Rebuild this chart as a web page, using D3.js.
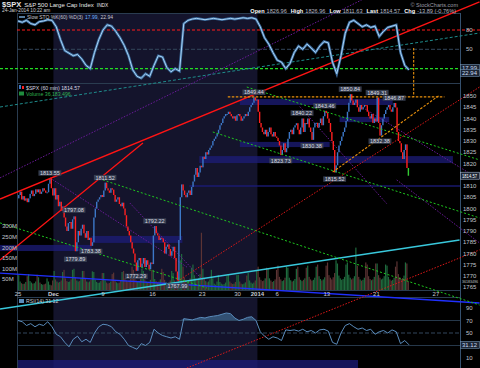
<!DOCTYPE html>
<html>
<head>
<meta charset="utf-8">
<script src="https://cdn.jsdelivr.net/npm/d3@7"></script>
<style>
body { margin: 0; background: #000; }
svg { display: block; }
text { font-family: "Liberation Sans", Arial, sans-serif; }
</style>
</head>
<body>
<svg id="chart" width="480" height="368"></svg>
<script>
/*
 * $SPX 60 min chart, 25-Nov-2013 .. 24-Jan-2014
 */

var tradingDays = ["2013-11-25","2013-11-26","2013-11-27","2013-11-29","2013-12-02","2013-12-03","2013-12-04",
    "2013-12-05","2013-12-06","2013-12-09","2013-12-10","2013-12-11","2013-12-12","2013-12-13","2013-12-16",
    "2013-12-17","2013-12-18","2013-12-19","2013-12-20","2013-12-23","2013-12-24","2013-12-26","2013-12-27",
    "2013-12-30","2013-12-31","2014-01-02","2014-01-03","2014-01-06","2014-01-07","2014-01-08","2014-01-09",
    "2014-01-10","2014-01-13","2014-01-14","2014-01-15","2014-01-16","2014-01-17","2014-01-21","2014-01-22",
    "2014-01-23","2014-01-24"];

// hourly closes, one row per session
var hourlyClose = [
    [1806, 1807.5, 1804, 1805.5, 1803.5, 1804.5, 1802.8],
    [1804.5, 1806.5, 1808, 1805.5, 1806.5, 1808.5, 1807.2],
    [1808.5, 1806.5, 1807.5, 1809, 1808, 1807, 1807.2],
    [1811, 1813.5, 1809, 1805.8],
    [1809, 1804, 1806, 1801, 1803, 1799, 1800.9],
    [1796, 1792, 1790, 1793.5, 1794, 1791, 1795.2],
    [1796.5, 1781, 1785, 1790, 1788, 1791, 1792.8],
    [1789, 1787, 1790, 1786, 1787, 1783.4, 1785],
    [1796, 1800, 1803, 1804, 1805, 1806, 1805.1],
    [1808, 1811.5, 1809, 1808, 1807, 1809, 1808.4],
    [1806, 1803, 1804, 1805, 1802, 1801, 1802.6],
    [1800, 1797, 1792, 1790, 1788, 1785, 1782.2],
    [1780, 1776, 1772.3, 1777, 1778, 1774, 1775.5],
    [1778, 1774, 1777, 1775, 1773, 1776, 1775.3],
    [1788, 1792.2, 1789, 1788, 1786, 1787, 1786.5],
    [1785, 1780, 1783, 1784, 1782, 1779, 1781],
    [1783, 1778, 1772, 1768, 1786, 1805, 1810.7],
    [1808, 1806, 1805, 1807, 1808, 1806, 1809.6],
    [1812, 1815, 1818, 1814, 1816, 1819, 1818.3],
    [1823, 1822, 1825, 1824, 1826, 1827, 1828],
    [1830, 1831, 1832, 1833.3],
    [1835, 1837, 1838, 1840, 1841, 1842, 1842],
    [1843, 1842, 1841, 1840, 1841, 1839, 1841.4],
    [1842, 1841, 1839, 1840, 1841, 1842, 1841.1],
    [1843, 1845, 1846, 1847, 1849.4, 1848, 1848.4],
    [1843, 1838, 1836, 1834, 1833, 1835, 1832],
    [1834, 1836, 1833, 1832, 1834, 1832, 1831.4],
    [1830, 1828, 1823.7, 1826, 1829, 1825, 1826.8],
    [1831, 1834, 1835, 1833, 1836, 1837, 1837.9],
    [1835, 1833, 1836, 1840, 1834, 1838, 1837.5],
    [1840, 1836, 1834, 1830.5, 1836, 1838, 1838.1],
    [1836, 1838, 1840, 1837, 1841, 1843.4, 1842.4],
    [1840, 1838, 1834, 1830, 1826, 1816, 1819.2],
    [1825, 1828, 1830, 1832, 1834, 1836, 1838.9],
    [1843, 1847, 1850.8, 1848, 1846, 1847, 1848.4],
    [1845, 1843, 1846, 1844, 1845, 1846, 1845.9],
    [1843, 1841, 1840, 1842, 1838, 1840, 1838.7],
    [1849.3, 1838, 1832.4, 1837, 1840, 1842, 1843.8],
    [1845, 1846, 1844, 1843, 1845, 1846.9, 1844.9],
    [1834, 1830, 1829, 1825, 1822, 1826, 1828.5],
    [1818, 1814.57]
];

// hourly volume, millions
var hourlyVolume = [
    [70, 40, 32, 28, 30, 38, 65], [75, 42, 35, 30, 32, 40, 72], [60, 35, 28, 25, 27, 30, 55], [40, 25, 22, 45],
    [90, 50, 40, 35, 38, 45, 85], [95, 55, 42, 38, 40, 50, 95], [100, 60, 45, 40, 42, 55, 90], [90, 52, 40, 36, 40, 48, 88],
    [85, 48, 38, 33, 35, 42, 80], [80, 45, 35, 30, 33, 40, 75], [82, 46, 36, 32, 35, 44, 85], [90, 55, 45, 40, 45, 55, 110],
    [95, 55, 45, 38, 42, 52, 100], [90, 50, 40, 35, 38, 48, 95], [95, 52, 42, 36, 40, 50, 100], [85, 48, 38, 33, 36, 45, 90],
    [80, 45, 35, 32, 60, 140, 170], [110, 60, 48, 40, 45, 55, 105], [120, 70, 55, 50, 55, 75, 270], [100, 55, 42, 36, 40, 50, 95],
    [55, 30, 25, 40], [70, 38, 30, 26, 28, 35, 65], [75, 40, 32, 28, 30, 38, 70], [72, 40, 30, 27, 30, 36, 68],
    [80, 45, 35, 30, 35, 45, 90], [110, 60, 48, 42, 45, 55, 105], [100, 55, 45, 38, 42, 50, 95], [115, 62, 50, 42, 46, 58, 110],
    [105, 58, 46, 40, 44, 52, 100], [110, 60, 48, 42, 48, 55, 105], [115, 62, 50, 44, 48, 58, 110], [120, 65, 52, 45, 50, 60, 115],
    [130, 70, 58, 50, 60, 80, 140], [125, 68, 55, 48, 52, 62, 120], [130, 72, 58, 50, 55, 65, 200], [115, 62, 50, 44, 48, 58, 130],
    [120, 65, 52, 46, 50, 62, 125], [125, 70, 58, 50, 54, 65, 120], [115, 62, 50, 44, 48, 58, 110], [135, 75, 60, 52, 56, 68, 130],
    [125, 40]
];

// Slow STO %K and RSI(14), read every 3rd hourly bar
var stochK = [94,92,95,90,88,93,94,96,95, 85,65,48,44,40,42,35,25,20, 45,65,80,88,86,78,68,56,
    40,18,8,5,12,8, 25,40,38,22,15,20,16, 90,95,97,98,97,96,97,98,97,96,97,98,97,98,99,
    98,99,97,85,68,58,45,33,30, 20,28,45,55,50,58,52,45,55,62,60,30,12,40,75,92,95,90,85,88,84,86,70,78,84,86,88,45,25,17.99];
var rsi14 = [70,68,62,65,60,64,62,68,60, 48,44,35,28,40,45,36,40,35, 50,60,64,63,60,52,48,40,
    30,27,24,33,30,35, 56,50,46,44,42,44,40, 73,72,71,73,75,74,76,77,78,80,82,81,74,70,72,
    75,76,70,52,45,40,44,42,38, 55,54,55,53,56,52,54,50,55,56,53,35,32,50,62,65,60,56,58,54,56,48,52,54,50,55,52,33,38,31.12];
var sampleStep = 3;

var weekTickDays = ["2013-11-25","2013-12-02","2013-12-09","2013-12-16","2013-12-23","2013-12-30","2014-01-02",
    "2014-01-06","2014-01-13","2014-01-21","2014-01-27"];
var weekTickLabels = ["25","Dec","9","16","23","30","2014","6","13","21","27"];
// 1815 is hidden behind the last-price box
var priceTicks = [1765,1770,1775,1780,1785,1790,1795,1800,1805,1810,1820,1825,1830,1835,1840,1845,1850];
var volumeTicks = [50,100,150,200,250,300];
var stochTicks = [80, 50];
var rsiTicks = [90, 70, 50, 10];

// swing labels: text, session, hour, price, high/low
var swingText  = ["1813.55","1797.08","1779.89","1783.38","1811.52","1772.29","1792.22","1767.99","1849.44",
    "1823.73","1840.22","1830.38","1843.46","1815.52","1850.84","1849.31","1832.38","1846.87"];
var swingDay   = [3,6,6,7,9,12,14,16,24,27,29,30,31,32,34,37,37,38];
var swingHour  = [1,0,1,5,1,2,1,3,4,2,3,3,5,5,2,0,2,5];
var swingPrice = [1813.55,1797.08,1779.89,1783.38,1811.52,1772.29,1792.22,1767.99,1849.44,
    1823.73,1840.22,1830.38,1843.46,1815.52,1850.84,1849.31,1832.38,1846.87];
var swingSide  = ["h","h","l","l","h","l","h","l","h","l","h","l","h","l","h","h","l","h"];

// annotations in (bar, price) units: [bar0, price0, bar1, price1]
var redSolidLines = [[-12.7, 1804.2, 325.8, 1891.8], [-12.7, 1777.1, 88.2, 1829.1]];
var redDottedLines = [[112.8, 1767.8, 325.8, 1854.0], [119.2, 1729.1, 325.8, 1781.6]];
var greenDottedLines = [[161.5, 1854, 325.8, 1821.6], [137.5, 1834, 325.8, 1795.8],
    [59.9, 1812.7, 325.8, 1757.1], [-12.7, 1793.6, 133.3, 1764.7]];
var purpleDottedLines = [[-12.7, 1813.6, 242.6, 1892.7], [22.6, 1813.6, 119.2, 1774], [79, 1802.4, 130.5, 1768.2],
    [198.9, 1845.3, 260.2, 1802.2], [243.3, 1844.9, 325.8, 1812.9], [267.3, 1812.7, 325.8, 1784.7]];
var tealDashedLines = [[-12.7, 1845.1, 325.8, 1878]];
var cyanLines = [[-12.7, 1755.3, 311.7, 1786]];
var blueLines = [[-12.7, 1771.3, 325.8, 1758]];
var orangeDashedLines = [[148.1, 1849.6, 301, 1849.6], [279.3, 1871.3, 279.3, 1849.6], [222.1, 1816.2, 297.6, 1850.4]];

// support / resistance zones: [bar0, bar1, priceLow, priceHigh]
var zones = [[156.6, 264.5, 1846, 1848.7], [227, 262, 1838.4, 1840.7], [156.6, 220, 1827.3, 1829.6],
    [128, 307, 1820.2, 1823.3], [121, 312, 1809.6, 1810.4], [52, 116, 1784.7, 1787.8], [-12.7, 52, 1781.1, 1783.8]];

var monthShade = ["2013-12-02", "2014-01-02"];

/*
 * Scales and panels
 */
var svg = d3.select('#chart');
var W = 480, H = 368;
var left = 17, right = 460;
var stoPanel = [13, 83], pricePanel = [83, 290], rsiPanel = [297, 368];

var x = d3.scaleLinear().domain([0, 312]).range([18, 460]);
var yPrice = d3.scaleLinear().domain([1765, 1850]).range([287.25, 96]);
var yVol = d3.scaleLinear().domain([0, 300]).range([290, 226.4]);
var ySto = d3.scaleLinear().domain([20, 80]).range([68.6, 30]);
var yRsi = d3.scaleLinear().domain([10, 90]).range([358, 308]);

var dayStart = [];
var nb = 0;
hourlyClose.forEach(function(row) { dayStart.push(nb); nb += row.length; });

function barOfDay(day) {
    var i = tradingDays.indexOf(day);
    if (i >= 0) return dayStart[i];
    // sessions after the last one: full 7-bar sessions
    var last = tradingDays.length - 1;
    var extra = d3.timeDay.count(new Date(tradingDays[last] + "T12:00"), new Date(day + "T12:00"));
    return dayStart[last] + 7 * extra;
}

var bars = [];
var prev = 1804.5;
hourlyClose.forEach(function(row, d) {
    row.forEach(function(c, h) {
        bars.push({bar: dayStart[d] + h, open: prev, close: c, vol: hourlyVolume[d][h]});
        prev = c;
    });
});

svg.append('rect').attr('width', W).attr('height', H).attr('fill', '#000');

// December shading
var shadeX0 = x(barOfDay(monthShade[0])), shadeX1 = x(barOfDay(monthShade[1]));
[stoPanel, pricePanel, rsiPanel].forEach(function(p) {
    svg.append('rect').attr('x', shadeX0).attr('y', p[0]).attr('width', shadeX1 - shadeX0)
        .attr('height', p[1] - p[0]).attr('fill', '#14142c');
});

// zones
svg.append('g').selectAll('rect').data(zones).join('rect')
    .attr('x', function(z) { return Math.max(0, x(z[0])); })
    .attr('width', function(z) { return x(z[1]) - Math.max(0, x(z[0])); })
    .attr('y', function(z) { return yPrice(z[3]); })
    .attr('height', function(z) { return yPrice(z[2]) - yPrice(z[3]); })
    .attr('fill', '#1c1c78').attr('opacity', 0.75);
svg.append('rect').attr('x', left).attr('y', 360).attr('width', x(240) - left).attr('height', 8)
    .attr('fill', '#1c1c78').attr('opacity', 0.75);

// frames
var frame = svg.append('g').attr('stroke', '#2a3c50').attr('stroke-width', 1);
frame.append('line').attr('x1', left).attr('x2', right).attr('y1', 13.5).attr('y2', 13.5);
frame.append('line').attr('x1', left).attr('x2', right).attr('y1', 83.5).attr('y2', 83.5);
frame.append('line').attr('x1', left).attr('x2', right).attr('y1', 290.5).attr('y2', 290.5);
frame.append('line').attr('x1', left).attr('x2', right).attr('y1', 297.5).attr('y2', 297.5);
frame.append('line').attr('x1', left + 0.5).attr('x2', left + 0.5).attr('y1', 13).attr('y2', 368);
frame.append('line').attr('x1', right + 0.5).attr('x2', right + 0.5).attr('y1', 13).attr('y2', 368)
    .attr('stroke', '#35506e');

// STO level lines
svg.append('line').attr('x1', left).attr('x2', W).attr('y1', ySto(80)).attr('y2', ySto(80))
    .attr('stroke', '#ff1a1a').attr('stroke-width', 1.2).attr('stroke-dasharray', '3,2');
svg.append('line').attr('x1', left).attr('x2', right).attr('y1', ySto(50)).attr('y2', ySto(50))
    .attr('stroke', '#33475c').attr('stroke-dasharray', '4,2');
svg.append('line').attr('x1', 0).attr('x2', W).attr('y1', ySto(20)).attr('y2', ySto(20))
    .attr('stroke', '#22dd22').attr('stroke-width', 1.2).attr('stroke-dasharray', '3,2');

// RSI level lines
svg.append('line').attr('x1', left).attr('x2', right).attr('y1', yRsi(70)).attr('y2', yRsi(70)).attr('stroke', '#26384a');
svg.append('line').attr('x1', left).attr('x2', right).attr('y1', yRsi(30)).attr('y2', yRsi(30)).attr('stroke', '#26384a');
svg.append('line').attr('x1', left).attr('x2', right).attr('y1', yRsi(50)).attr('y2', yRsi(50))
    .attr('stroke', '#33475c').attr('stroke-dasharray', '4,2');

// volume
svg.append('g').selectAll('rect').data(bars).join('rect')
    .attr('x', function(b) { return x(b.bar) + 0.1; })
    .attr('width', 1.2)
    .attr('y', function(b) { return yVol(b.vol); })
    .attr('height', function(b) { return yVol(0) - yVol(b.vol); })
    .attr('fill', function(b) { return b.close >= b.open ? '#1f6b3e' : '#5c3434'; });

// trend lines
function drawLines(list, color, width, dash) {
    svg.append('g').selectAll('line').data(list).join('line')
        .attr('x1', function(l) { return x(l[0]); }).attr('y1', function(l) { return yPrice(l[1]); })
        .attr('x2', function(l) { return x(l[2]); }).attr('y2', function(l) { return yPrice(l[3]); })
        .attr('stroke', color).attr('stroke-width', width)
        .attr('stroke-dasharray', dash);
}
drawLines(purpleDottedLines, '#6a1a9a', 1, '1.5,1.5');
drawLines(tealDashedLines, '#1f8c8c', 1, '3,2');
drawLines(blueLines, '#2030ff', 1.4, null);
drawLines(cyanLines, '#39c8dc', 1.6, null);

// price candles
svg.append('g').selectAll('rect').data(bars).join('rect')
    .attr('x', function(b) { return x(b.bar) + 0.1; })
    .attr('width', 1.4)
    .attr('y', function(b) { return yPrice(Math.max(b.open, b.close)); })
    .attr('height', function(b) { return Math.max(1, Math.abs(yPrice(b.open) - yPrice(b.close))); })
    .attr('fill', function(b, i) {
        if (i === bars.length - 1) return '#33cc33';
        return b.close >= b.open ? '#3c78c8' : '#ff2020';
    });

drawLines(greenDottedLines, '#1ec81e', 1, '2,2');
drawLines(redDottedLines, '#e01818', 1, '1.5,1.5');
drawLines(redSolidLines, '#ff1414', 1.3, null);
drawLines(orangeDashedLines, '#e8900c', 1.1, '2.5,1.5');

// stochastic line
var stoLine = d3.line()
    .x(function(v, i) { return x(i * sampleStep); })
    .y(function(v) { return ySto(v); });
svg.append('path').datum(stochK).attr('d', stoLine).attr('fill', 'none')
    .attr('stroke', '#3b6b9c').attr('stroke-width', 2.6);
svg.append('path').datum(stochK).attr('d', stoLine).attr('fill', 'none')
    .attr('stroke', '#a9d3f5').attr('stroke-width', 1);

// RSI
var rsiLine = d3.line()
    .x(function(v, i) { return x(i * sampleStep); })
    .y(function(v) { return yRsi(v); });
var rsiArea = d3.area()
    .x(function(v, i) { return x(i * sampleStep); })
    .y0(yRsi(70))
    .y1(function(v) { return yRsi(Math.max(70, v)); });
svg.append('path').datum(rsi14).attr('d', rsiArea).attr('fill', '#3a5f86').attr('opacity', 0.8);
svg.append('path').datum(rsi14).attr('d', rsiLine).attr('fill', 'none')
    .attr('stroke', '#5a8cbc').attr('stroke-width', 1);

// swing labels
var swings = swingText.map(function(t, i) {
    return {text: t, bar: dayStart[swingDay[i]] + swingHour[i], price: swingPrice[i], side: swingSide[i]};
});
var sg = svg.append('g').selectAll('g').data(swings).join('g');
sg.append('text')
    .attr('x', function(s) { return x(s.bar + 0.5); })
    .attr('y', function(s) { return s.side === 'h' ? yPrice(s.price) - 3 : yPrice(s.price) + 7.5; })
    .attr('text-anchor', 'middle').attr('font-size', 5.5).attr('fill', '#d8d8e0')
    .text(function(s) { return s.text; })
    .each(function() {
        var bb = this.getBBox();
        d3.select(this.parentNode).insert('rect', 'text')
            .attr('x', bb.x - 1.5).attr('y', bb.y + 0.3).attr('width', bb.width + 3).attr('height', bb.height - 0.6)
            .attr('fill', '#3a4254').attr('opacity', 0.9);
    });

// right axis labels
var axisText = svg.append('g').attr('font-size', 6).attr('fill', '#c0c4cc');
axisText.selectAll('.pt').data(priceTicks).join('text').attr('class', 'pt')
    .attr('x', 463).attr('y', function(v) { return yPrice(v) + 2; })
    .text(function(v) { return v; });
axisText.selectAll('.st').data(stochTicks).join('text').attr('class', 'st')
    .attr('x', 466).attr('y', function(v) { return ySto(v) + 2; })
    .text(function(v) { return v; });
axisText.selectAll('.rt').data(rsiTicks).join('text').attr('class', 'rt')
    .attr('x', 466).attr('y', function(v) { return yRsi(v) + 2; })
    .text(function(v) { return v; });
axisText.selectAll('.vt').data(volumeTicks).join('text').attr('class', 'vt')
    .attr('x', 2).attr('y', function(v) { return yVol(v) + 2; })
    .text(function(v) { return v + 'M'; });

function valueBox(label, y, fill, stroke, color) {
    svg.append('rect').attr('x', 460.5).attr('y', y - 3.5).attr('width', 19).attr('height', 7)
        .attr('fill', fill).attr('stroke', stroke).attr('stroke-width', 0.6);
    svg.append('text').attr('x', 462).attr('y', y + 2).attr('font-size', 5.2).attr('fill', color)
        .attr('textLength', 15).attr('lengthAdjust', 'spacingAndGlyphs').text(label);
}
valueBox('1814.57', yPrice(1814.57), '#1d2636', '#9fb0c8', '#ffffff');
valueBox('17.99', ySto(17.99) - 2, '#1d2636', '#6f8fb0', '#c8dcf0');
valueBox('22.94', ySto(17.99) + 3, '#1d2636', '#6f8fb0', '#c8dcf0');
valueBox('31.12', yRsi(31.12), '#1d2636', '#6f8fb0', '#c8dcf0');
svg.append('text').attr('x', 462).attr('y', 283).attr('font-size', 4.2).attr('fill', '#c0c4cc')
    .attr('textLength', 16).attr('lengthAdjust', 'spacingAndGlyphs').text('36183496');

// date axis
svg.append('g').selectAll('text').data(weekTickDays).join('text')
    .attr('x', function(d) { return x(barOfDay(d)); })
    .attr('y', 296)
    .attr('text-anchor', 'middle').attr('font-size', 6)
    .attr('font-weight', function(d, i) { return (weekTickLabels[i] === 'Dec' || weekTickLabels[i] === '2014') ? 'bold' : 'normal'; })
    .attr('fill', '#c8ccd4')
    .text(function(d, i) { return weekTickLabels[i]; });

// header
var head = svg.append('text').attr('x', 2).attr('y', 7).attr('fill', '#e8e8e8');
head.append('tspan').attr('font-size', 7.5).attr('font-weight', 'bold').text('$SPX');
head.append('tspan').attr('font-size', 6).attr('dx', 3).text('S&P 500 Large Cap Index');
head.append('tspan').attr('font-size', 4.8).attr('dx', 3).text('INDX');
svg.append('text').attr('x', 2).attr('y', 12.2).attr('font-size', 4.8).attr('fill', '#d0d0d0').text('24-Jan-2014 10:22 am');
svg.append('text').attr('x', 458).attr('y', 7).attr('text-anchor', 'end').attr('font-size', 5.5)
    .attr('fill', '#9a9aa4').text('\u00a9 StockCharts.com');

var quote = svg.append('text').attr('x', 456).attr('y', 12.5).attr('text-anchor', 'end').attr('font-size', 5.6).attr('fill', '#b8b8c0');
[['Open', '1826.96'], ['High', '1826.96'], ['Low', '1811.63'], ['Last', '1814.57'], ['Chg', '-13.89 (-0.76%)']]
    .forEach(function(q, i) {
        quote.append('tspan').attr('font-weight', 'bold').attr('fill', '#ffffff').attr('dx', i ? 4 : 0).text(q[0]);
        quote.append('tspan').attr('dx', 2).text(q[1]);
    });

// legends
svg.append('line').attr('x1', 19).attr('x2', 25).attr('y1', 17).attr('y2', 17).attr('stroke', '#7ab0e0').attr('stroke-width', 1.4);
var stoLeg = svg.append('text').attr('x', 27).attr('y', 19).attr('font-size', 5).attr('fill', '#c8c8d0');
stoLeg.append('tspan').text('Slow STO %K(60) %D(3)');
stoLeg.append('tspan').attr('dx', 2).attr('fill', '#6fb4ff').text('17.99,');
stoLeg.append('tspan').attr('dx', 1.5).text('22.94');

svg.append('rect').attr('x', 19).attr('y', 85).attr('width', 2).attr('height', 4).attr('fill', '#3c78c8');
svg.append('rect').attr('x', 22).attr('y', 86).attr('width', 2).attr('height', 3).attr('fill', '#ff2020');
svg.append('text').attr('x', 26).attr('y', 89.5).attr('font-size', 5.2).attr('fill', '#d8d8e0').text('$SPX (60 min) 1814.57');
svg.append('rect').attr('x', 19).attr('y', 91.5).attr('width', 5).attr('height', 4).attr('fill', '#1f8c3e');
svg.append('text').attr('x', 26).attr('y', 96).attr('font-size', 5.2).attr('fill', '#2fb04f').text('Volume 36,183,496');

svg.append('rect').attr('x', 19).attr('y', 299).attr('width', 5).attr('height', 4).attr('fill', '#5a8cbc');
svg.append('text').attr('x', 26).attr('y', 303).attr('font-size', 5.2).attr('fill', '#c8c8d0').text('RSI(14) 31.12');
</script>
</body>
</html>
